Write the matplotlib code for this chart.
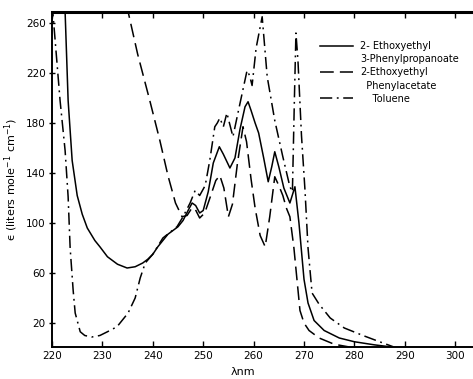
import matplotlib
matplotlib.use("Agg")
import matplotlib.pyplot as plt
from matplotlib.lines import Line2D

# 2-Ethoxyethyl 3-Phenylpropanoate (solid)
wl_prop = [222.4, 222.6, 223.2, 224, 225, 226, 227, 228.5, 229.5, 231, 233, 234.9, 236.5, 238, 239,
           240, 241, 242, 243, 244, 245, 246, 247, 247.8, 248.5, 249.3, 250, 251, 252, 253.2, 254,
           255.3, 256.3, 257.3, 258.3, 258.9, 259.5, 260.3, 261, 262, 262.9, 263.6, 264.2, 265, 266,
           267.2, 268.2, 269, 270, 270.8, 272, 274, 277, 280, 284, 287]
eps_prop = [275, 269, 198, 150, 122, 107, 96, 86, 81, 73, 67, 64, 65, 68, 71,
            75, 81, 86, 91, 94, 97, 102, 110, 116, 114, 108, 110, 125, 148, 161, 155,
            144, 152, 175, 193, 197, 190, 180, 172, 152, 133, 145, 157, 145, 128,
            116, 129, 100, 55, 36, 22, 14, 8, 5, 2.5, 1]

# 2-Ethoxyethyl Phenylacetate (dashed)
wl_acet = [235.0, 235.1, 237, 239.4, 241.4, 243, 244.5, 245.8, 246.8, 247.6, 248.3, 249.3, 250.3,
           251.5, 252.5, 253.3, 254.1, 255, 255.8, 256.8, 257.9, 258.6, 259.5, 260.3, 261.3, 262.3,
           263.2, 264.2, 265, 265.8, 266.5, 267.2, 268, 269.2, 270, 271, 273, 276, 279]
eps_acet = [275, 269, 235, 198, 166, 138, 116, 105, 106, 111, 112, 104, 108,
            122, 134, 138, 128, 105, 115, 148, 177, 165, 135, 112, 90, 81,
            105, 137, 130, 122, 112, 105, 80, 30, 20, 14, 8, 3, 0.8]

# Toluene (dash-dot)
wl_tol = [220, 220.3, 221.6, 222.6, 223.2, 223.6, 224.2, 224.6, 225.6, 226.5, 227.9, 229.5, 231,
          232.9, 235.1, 236.5, 237.5, 238.5, 240, 242, 244.8, 246, 247.4, 248.4, 249.3, 250.4,
          251.3, 252.3, 252.8, 253.3, 254, 254.7, 255.9, 257, 258.7, 259.2, 259.7, 260.5, 261.7,
          262.7, 264.2, 265.8, 267.2, 267.7, 268.1, 268.4, 268.8, 269.5, 270.2, 270.8, 271.6, 273,
          275.2, 278, 281.7, 285, 287.7]
eps_tol = [275, 262, 198, 158, 121, 80, 46, 28, 13, 10, 8.8, 10, 13,
           17, 28, 40, 56, 68, 75, 88, 97, 105, 116, 126, 122, 130,
           150, 177, 180, 184, 177, 188, 169, 190, 222, 218, 210, 240, 265,
           217, 182, 153, 129, 125, 200, 252, 230, 170, 126, 80, 44, 35,
           24, 16, 10, 5, 1]

x_ticks = [220, 230, 240, 250, 260, 270, 280, 290, 300]
y_ticks = [20, 60, 100, 140, 180, 220, 260]

fig = plt.figure(figsize=(4.73, 3.79), dpi=100)
ax = fig.add_axes([52 / 473, 1 - 347 / 379, 421 / 473, 335 / 379])

lw = 1.1
ax.plot(wl_prop, eps_prop, color="black", lw=lw, linestyle="-")
ax.plot(wl_acet, eps_acet, color="black", lw=lw, linestyle=(0, (9, 4)))
ax.plot(wl_tol, eps_tol, color="black", lw=lw, linestyle=(0, (8, 3, 1.2, 3)))

ax.set_xlim(220, 220 + 421 / 5.04)
ax.set_ylim(0.8, 268.8)
ax.set_xticks(x_ticks)
ax.set_yticks(y_ticks)
ax.tick_params(axis="x", direction="in", top=True, length=4, width=1, labelsize=7.5, pad=3)
ax.tick_params(axis="y", direction="inout", length=5, width=1, labelsize=7.5, pad=2)

for s in ["left", "bottom"]:
    ax.spines[s].set_linewidth(1.4)
ax.spines["top"].set_linewidth(2.2)
ax.spines["right"].set_visible(False)

ax.set_ylabel("\u03f5 (liters mole$^{-1}$ cm$^{-1}$)", fontsize=8, labelpad=4)
ax.set_xlabel("\u03bbnm", fontsize=8, labelpad=2)
ax.xaxis.set_label_coords((243 - 52) / 421, -0.06)

blank = Line2D([], [], color="none")
handles = [
    Line2D([], [], color="black", lw=lw, linestyle="-"),
    blank,
    Line2D([], [], color="black", lw=lw, linestyle=(0, (9, 4))),
    blank,
    Line2D([], [], color="black", lw=lw, linestyle=(0, (8, 3, 1.2, 3))),
]
labels = ["2- Ethoxyethyl", "3-Phenylpropanoate", "2-Ethoxyethyl", "  Phenylacetate", "    Toluene"]
ax.legend(handles, labels, loc="upper left", bbox_to_anchor=((320 - 52) / 421, 1 - (41 - 12) / 335),
          frameon=False, fontsize=7, handlelength=3.4, handletextpad=0.7, labelspacing=0.33,
          borderpad=0, borderaxespad=0)

fig.savefig("out.png", dpi=100)
